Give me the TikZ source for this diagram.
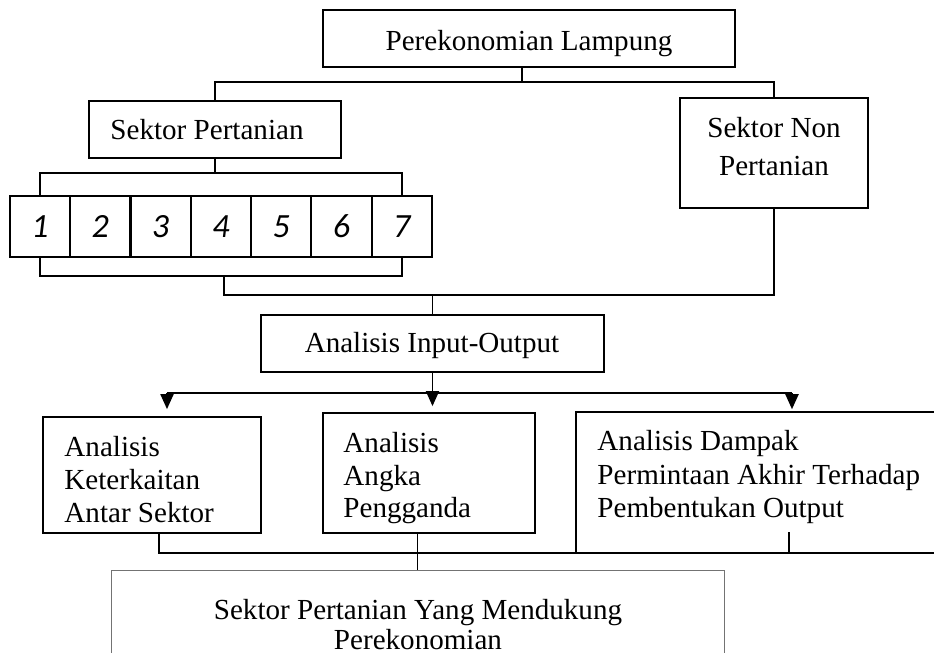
\documentclass[tikz,border=0pt]{standalone}
\usepackage{fontspec}
\setmainfont{Liberation Serif}
\newfontfamily\digitfont{Carlito}
\usetikzlibrary{arrows.meta,fit}

\tikzset{
  box/.style={draw, line width=0.7pt, inner sep=0pt},
  numbox/.style={draw, line width=0.9pt, minimum width=24.88pt, minimum height=25.17pt, inner sep=0pt,
    font=\digitfont\itshape\fontsize{14}{16}\selectfont},
  txt/.style={inner sep=0pt, align=left, font=\fontsize{12}{13.6}\selectfont},
  conn/.style={line width=0.7pt},
  arr/.style={line width=0.7pt, -{Triangle[length=6.2pt,width=5.4pt]}}
}

\begin{document}
\begin{tikzpicture}[x=0.4126pt,y=-0.4126pt]
  \useasboundingbox (0,0) rectangle (934,653);

  \node[box, fit={(323,10) (735,67)}] (top) {};
  \node[box, fit={(89,101) (341,158)}] (sp) {};
  \node[box, fit={(680,98) (868,208)}] (nonp) {};
  \node[box, fit={(261,315) (604,372)}] (io) {};
  \node[box, fit={(43,417) (261,533)}] (a1) {};
  \node[box, fit={(323,413) (535,533)}] (a2) {};
  \node[box, fit={(576,412) (950,553)}] (a3) {};
  \node[box, draw=black!55, line width=0.4pt, fit={(111,570) (724,680)}] (hasil) {};
  \foreach \i in {1,...,7}
    \node[numbox] (n\i) at ({40+60.29*(\i-1)},226.5) {\i};

  \node[txt, anchor=base] (toptxt) at (529,50) {Perekonomian Lampung};
  \node[txt, anchor=base west] (sptxt) at (110,139) {Sektor Pertanian};
  \node[txt, anchor=north, align=center, font=\fontsize{12}{15.7}\selectfont] (nonptxt) at (774,117) {Sektor Non\\Pertanian};
  \node[txt, anchor=base] (iotxt) at (432,352) {Analisis Input-Output};
  \node[txt, anchor=north west] (a1txt) at (64,436) {Analisis\\Keterkaitan\\Antar Sektor};
  \node[txt, anchor=north west, font=\fontsize{12}{13.4}\selectfont] (a2txt) at (343,432) {Analisis\\Angka\\Pengganda};
  \node[txt, anchor=north west, font=\fontsize{12}{13.8}\selectfont] (a3txt) at (597,430) {Analisis Dampak\\Permintaan Akhir Terhadap\\Pembentukan Output};
  \node[txt, anchor=north, align=center, font=\fontsize{12}{12.4}\selectfont] (hasiltxt) at (418,599) {Sektor Pertanian Yang Mendukung\\Perekonomian};

  \coordinate (j1) at (522,82);
  \coordinate (j2) at (215,173);
  \coordinate (j3) at (224,276);
  \coordinate (j4) at (224,295);
  \coordinate (j5) at (167,393);
  \coordinate (j6) at (792,393);
  \coordinate (j7) at (159,553);
  \coordinate (j8) at (789,553);
  \coordinate (j9) at (789,532);

  \draw[conn] (top.south -| j1) -- (j1);
  \draw[conn] (sp.north) |- (j1) -| (nonp.north);
  \draw[conn] (sp.south) -- (j2);
  \draw[conn] (n1.north) |- (j2) -| (n7.north);
  \draw[conn] (n1.south) |- (j3) -| (n7.south);
  \draw[conn] (j3) -- (j4) -| (nonp.south);
  \draw[conn] (io.north |- j4) -- (io.north);
  \draw[conn] (j5) -- (j6);
  \draw[arr, shorten >=2.9pt] (j5) -- (j5 |- a1.north);
  \draw[arr, shorten >=2.5pt] (io.south) -- (io.south |- a2.north);
  \draw[arr, shorten >=0.8pt] (j6) -- (j6 |- a3.north);
  \draw[conn] (j7 |- a1.south) -- (j7) -- (j8) -- (j9);
  \draw[conn] (hasil.north) -- (hasil.north |- a2.south);
\end{tikzpicture}
\end{document}
